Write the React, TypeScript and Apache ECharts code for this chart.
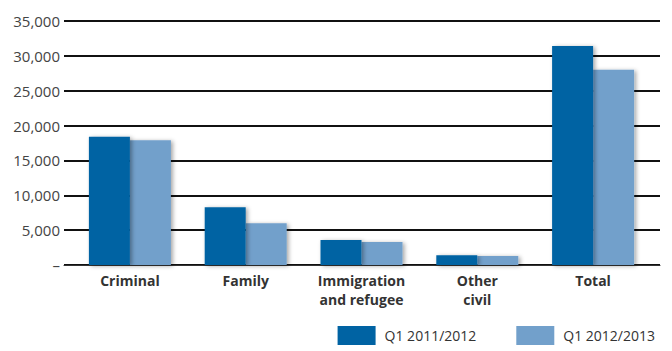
import React, { useEffect, useRef } from "react";
import * as echarts from "echarts";

const categories = ["Criminal", "Family", "Immigration\nand refugee", "Other\ncivil", "Total"];
const seriesNames = ["Q1 2011/2012", "Q1 2012/2013"];
const q1_2011 = [18400, 8300, 3600, 1400, 31400];
const q1_2012 = [17900, 6000, 3300, 1300, 28000];
const colors = ["#0063a3", "#72a0cb"];
const yMax = 35000;
const yInterval = 5000;

export default function App() {
  const ref = useRef<HTMLDivElement>(null);
  useEffect(() => {
    if (!ref.current) return;
    const chart = echarts.init(ref.current, null, { renderer: "svg" });
    const font = "'Open Sans', 'Noto Sans', sans-serif";
    const firstLines = categories.map((c) => c.split("\n")[0]);
    const secondLines = categories.map((c) => c.split("\n")[1] || "");
    const barStyle = (c: string) => ({
      color: c,
      shadowBlur: 4,
      shadowColor: "rgba(0,0,0,0.35)",
      shadowOffsetX: 2,
      shadowOffsetY: 1,
    });
    const catLabel = (margin: number) => ({
      color: "#333",
      fontWeight: "bold",
      fontSize: 14,
      margin,
      fontFamily: font,
      interval: 0,
    });
    chart.setOption({
      animation: false,
      textStyle: { fontFamily: font },
      grid: [
        { left: 64, right: 12, top: 21, bottom: 86 },
        { left: 72, right: 21, top: 21, bottom: 86 },
      ],
      legend: {
        right: 12,
        bottom: 1,
        itemWidth: 38,
        itemHeight: 19,
        itemGap: 40,
        icon: "rect",
        textStyle: { fontSize: 14, color: "#333", fontFamily: font, padding: [0, 0, 0, 4] },
        data: seriesNames,
      },
      xAxis: [
        {
          type: "category",
          gridIndex: 0,
          data: [""],
          axisLine: { lineStyle: { color: "#333", width: 1 } },
          axisTick: { show: false },
          axisLabel: { show: false },
        },
        {
          type: "category",
          gridIndex: 1,
          data: firstLines,
          axisLine: { show: false },
          axisTick: { show: false },
          axisLabel: catLabel(8),
        },
        {
          type: "category",
          gridIndex: 1,
          position: "bottom",
          data: secondLines,
          axisLine: { show: false },
          axisTick: { show: false },
          axisLabel: catLabel(27),
        },
      ],
      yAxis: [
        {
          type: "value",
          gridIndex: 0,
          min: 0,
          max: yMax,
          interval: yInterval,
          axisLine: { show: false },
          axisTick: { show: false },
          axisLabel: {
            color: "#444",
            fontSize: 15,
            margin: 4,
            fontFamily: font,
            formatter: (v: number) => (v === 0 ? "–" : v.toLocaleString("en-US")),
          },
          splitLine: { lineStyle: { color: "#111", width: 2 } },
        },
        {
          type: "value",
          gridIndex: 1,
          min: 0,
          max: yMax,
          interval: yInterval,
          show: false,
          splitLine: { show: false },
        },
      ],
      series: [
        {
          name: seriesNames[0],
          type: "bar",
          xAxisIndex: 1,
          yAxisIndex: 1,
          data: q1_2011,
          barWidth: 41,
          barGap: "0%",
          itemStyle: barStyle(colors[0]),
          z: 3,
        },
        {
          name: seriesNames[1],
          type: "bar",
          xAxisIndex: 1,
          yAxisIndex: 1,
          data: q1_2012,
          barWidth: 41,
          barGap: "0%",
          itemStyle: barStyle(colors[1]),
          z: 2,
        },
      ],
    });
    return () => chart.dispose();
  }, []);
  return <div ref={ref} style={{ width: 672, height: 351, position: "absolute", left: 0, top: 0 }} />;
}
